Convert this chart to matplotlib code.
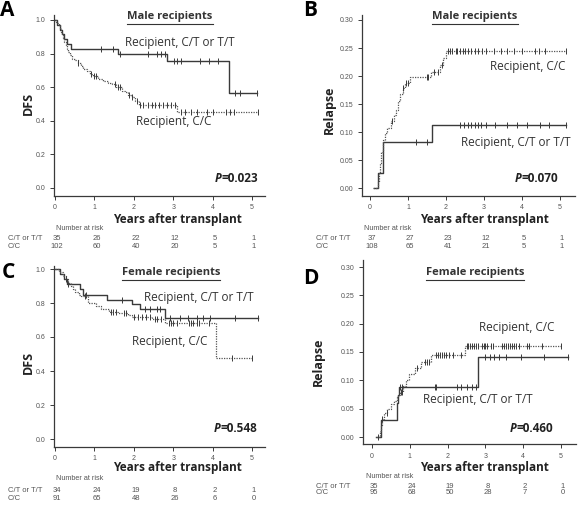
import numpy as np
import matplotlib
matplotlib.use("Agg")
import matplotlib.pyplot as plt
from matplotlib.lines import Line2D

W, H = 579, 513
BIG = "Open Sans"
SMALL = "Liberation Sans"
LINE = "#3a3a3a"
TXT = "#333333"
TICK = "#555555"

# ---- data ----
years = [0, 1, 2, 3, 4, 5]

# A: DFS, male recipients
A_ct_t = [0, 0.06, 0.12, 0.18, 0.24, 0.30, 0.40, 1.60, 2.85, 4.42, 5.12]
A_ct_s = [1.0, 0.971, 0.943, 0.914, 0.886, 0.857, 0.829, 0.80, 0.755, 0.566, 0.566]
A_ct_cens = [1.18, 1.47, 1.65, 2.36, 2.6, 2.7, 2.8, 3.02, 3.09, 3.2, 3.68, 3.9, 4.14, 4.57, 4.7, 5.12]
A_cc_t = [0, 0.03, 0.06, 0.09, 0.12, 0.15, 0.18, 0.21, 0.24, 0.27, 0.30, 0.34, 0.38, 0.43,
          0.50, 0.58, 0.65, 0.72, 0.80, 0.88, 0.96, 1.10, 1.22, 1.35, 1.45, 1.55, 1.70, 1.78,
          1.86, 1.95, 2.03, 2.12, 3.10, 5.15]
A_cc_s = [1.0, 0.99, 0.98, 0.97, 0.95, 0.93, 0.91, 0.89, 0.87, 0.85, 0.83, 0.81, 0.79, 0.77,
          0.76, 0.745, 0.725, 0.71, 0.695, 0.68, 0.667, 0.647, 0.637, 0.627, 0.617, 0.60, 0.58, 0.57,
          0.555, 0.54, 0.52, 0.495, 0.455, 0.455]
A_cc_cens = [0.59, 0.92, 0.98, 1.04, 1.53, 1.6, 1.66, 1.88, 1.95, 2.08, 2.16, 2.24, 2.35, 2.45,
             2.55, 2.65, 2.75, 2.85, 2.95, 3.05, 3.2, 3.3, 3.45, 3.6, 3.85, 4.0, 4.35, 4.45, 4.55, 5.15]
A_risk_ct = [35, 26, 22, 12, 5, 1]
A_risk_cc = [102, 60, 40, 20, 5, 1]

# B: relapse, male recipients
B_ct_t = [0.1, 0.21, 0.33, 1.62, 5.15]
B_ct_s = [0.0, 0.027, 0.083, 0.113, 0.113]
B_ct_cens = [1.21, 1.5, 2.36, 2.47, 2.58, 2.67, 2.75, 2.84, 2.93, 3.04, 3.29, 3.6, 3.88, 4.12, 4.48, 4.7, 5.15]
B_cc_t = [0.08, 0.2, 0.23, 0.26, 0.3, 0.34, 0.4, 0.46, 0.55, 0.62, 0.68, 0.74, 0.8, 0.86,
          0.92, 1.04, 1.6, 1.85, 1.92, 2.0, 5.15]
B_cc_s = [0.0, 0.01, 0.027, 0.045, 0.065, 0.086, 0.098, 0.108, 0.12, 0.13, 0.14, 0.155, 0.168,
          0.178, 0.188, 0.198, 0.208, 0.22, 0.232, 0.244, 0.244]
B_cc_cens = [0.58, 0.87, 0.95, 1.0, 1.5, 1.52, 1.69, 1.8, 1.9, 2.05, 2.1, 2.15, 2.25, 2.3, 2.38,
             2.45, 2.5, 2.58, 2.65, 2.75, 2.85, 2.95, 3.05, 3.25, 3.45, 3.6, 3.8, 4.0, 4.35, 4.45, 4.6, 5.15]
B_risk_ct = [37, 27, 23, 12, 5, 1]
B_risk_cc = [108, 65, 41, 21, 5, 1]

# C: DFS, female recipients
C_ct_t = [0, 0.12, 0.22, 0.30, 0.63, 0.72, 1.31, 1.95, 2.16, 2.79, 5.16]
C_ct_s = [1.0, 0.97, 0.94, 0.91, 0.88, 0.85, 0.82, 0.795, 0.766, 0.71, 0.71]
C_ct_cens = [0.33, 0.78, 1.69, 2.28, 2.41, 2.58, 2.66, 2.92, 3.17, 3.38, 3.6, 3.76, 3.93, 4.57, 5.16]
C_cc_t = [0, 0.09, 0.2, 0.27, 0.33, 0.4, 0.45, 0.52, 0.6, 0.66, 0.85, 1.05, 1.17, 1.36, 1.6,
          1.85, 1.95, 2.45, 2.8, 4.08, 5.0]
C_cc_s = [1.0, 0.98, 0.96, 0.94, 0.92, 0.90, 0.88, 0.865, 0.85, 0.84, 0.80, 0.785, 0.766, 0.75,
          0.74, 0.73, 0.72, 0.705, 0.683, 0.476, 0.476]
C_cc_cens = [0.29, 0.75, 1.42, 1.48, 1.55, 1.75, 1.8, 2.0, 2.1, 2.2, 2.3, 2.4, 2.55, 2.6, 2.7,
             2.9, 2.95, 3.0, 3.1, 3.4, 3.45, 3.5, 3.6, 3.65, 3.9, 4.5, 5.0]
C_risk_ct = [34, 24, 19, 8, 2, 1]
C_risk_cc = [91, 65, 48, 26, 6, 0]

# D: relapse, female recipients
D_ct_t = [0.1, 0.24, 0.67, 0.69, 0.71, 2.8, 5.18]
D_ct_s = [0.0, 0.03, 0.06, 0.075, 0.088, 0.141, 0.141]
D_ct_cens = [0.16, 0.74, 0.8, 1.67, 1.7, 2.25, 2.35, 2.5, 2.65, 2.75, 2.98, 3.11, 3.24, 3.37, 3.54, 3.93, 4.55, 5.18]
D_cc_t = [0.1, 0.2, 0.24, 0.27, 0.32, 0.4, 0.5, 0.58, 0.65, 0.7, 0.75, 0.82, 0.9, 0.97, 1.15,
          1.3, 1.55, 2.47, 5.0]
D_cc_s = [0.0, 0.011, 0.021, 0.032, 0.042, 0.05, 0.058, 0.064, 0.07, 0.075, 0.08, 0.09, 0.1,
          0.111, 0.122, 0.133, 0.145, 0.161, 0.161]
D_cc_cens = [0.27, 0.39, 0.76, 0.8, 1.2, 1.4, 1.45, 1.5, 1.7, 1.75, 1.8, 1.85, 1.9, 1.95, 2.05,
             2.15, 2.35, 2.5, 2.55, 2.6, 2.65, 2.7, 2.75, 2.8, 2.9, 2.95, 3.0, 3.05, 3.15, 3.2,
             3.45, 3.5, 3.55, 3.6, 3.65, 3.7, 3.75, 3.8, 3.9, 4.1, 4.15, 4.5, 5.0]
D_risk_ct = [35, 24, 19, 8, 2, 1]
D_risk_cc = [95, 68, 50, 28, 7, 0]


def fx(x):
    return x / W


def fy(y):
    return 1 - y / H


def step_at(t, s, c):
    idx = np.searchsorted(t, c, side="right") - 1
    return np.asarray(s)[idx]


fig = plt.figure(figsize=(W / 100, H / 100), dpi=100)

panels = [
    dict(letter="A", lx=0, ly=0, x0=55, x5=252, xl=(-0.03, 5.33), ytop=(20, 1.0), ybot=(188, 0.0),
         yl=(-0.048, 1.03), yticks=np.arange(0, 1.01, 0.2), fmt="%.1f", ylabel="DFS", ylx=28, yly=103,
         title="Male recipients", tx=170, ty=17,
         ct=(A_ct_t, A_ct_s, A_ct_cens), cc=(A_cc_t, A_cc_s, A_cc_cens),
         ct_lab=(125, 43), cc_lab=(136, 121), p="0.023", px=258, py=179,
         xlab=(177, 220), risk=(A_risk_ct, A_risk_cc), rk=(228, 238, 247), rowx=8, nax=56),
    dict(letter="B", lx=303, ly=0, x0=370, x5=560, xl=(-0.21, 5.4), ytop=(20, 0.30), ybot=(188, 0.0),
         yl=(-0.014, 0.309), yticks=np.arange(0, 0.301, 0.05), fmt="%.2f", ylabel="Relapse", ylx=329, yly=110,
         title="Male recipients", tx=475, ty=17,
         ct=(B_ct_t, B_ct_s, B_ct_cens), cc=(B_cc_t, B_cc_s, B_cc_cens),
         ct_lab=(461, 143), cc_lab=(490, 67), p="0.070", px=558, py=179,
         xlab=(484, 220), risk=(B_risk_ct, B_risk_cc), rk=(228, 238, 247), rowx=316, nax=364),
    dict(letter="C", lx=2, ly=262, x0=55, x5=252, xl=(-0.03, 5.33), ytop=(269, 1.0), ybot=(439, 0.0),
         yl=(-0.045, 1.015), yticks=np.arange(0, 1.01, 0.2), fmt="%.1f", ylabel="DFS", ylx=28, yly=362,
         title="Female recipients", tx=171, ty=273,
         ct=(C_ct_t, C_ct_s, C_ct_cens), cc=(C_cc_t, C_cc_s, C_cc_cens),
         ct_lab=(144, 298), cc_lab=(132, 341), p="0.548", px=257, py=428,
         xlab=(177, 468), risk=(C_risk_ct, C_risk_cc), rk=(478, 490, 498), rowx=8, nax=56),
    dict(letter="D", lx=303, ly=268, x0=372, x5=561, xl=(-0.24, 5.4), ytop=(267, 0.30), ybot=(437, 0.0),
         yl=(-0.013, 0.312), yticks=np.arange(0, 0.301, 0.05), fmt="%.2f", ylabel="Relapse", ylx=318, yly=362,
         title="Female recipients", tx=475, ty=273,
         ct=(D_ct_t, D_ct_s, D_ct_cens), cc=(D_cc_t, D_cc_s, D_cc_cens),
         ct_lab=(423, 399), cc_lab=(479, 327), p="0.460", px=553, py=428,
         xlab=(484, 468), risk=(D_risk_ct, D_risk_cc), rk=(476, 486, 493), rowx=316, nax=366),
]

titles = []
pvals = []
for p in panels:
    sx = (p["x5"] - p["x0"]) / 5
    left = p["x0"] + p["xl"][0] * sx
    right = p["x0"] + p["xl"][1] * sx
    (ypa, va), (ypb, vb) = p["ytop"], p["ybot"]
    sy = (ypb - ypa) / (va - vb)
    top = ypa - (p["yl"][1] - va) * sy
    bottom = ypb + (vb - p["yl"][0]) * sy
    ax = fig.add_axes([fx(left), fy(bottom), (right - left) / W, (bottom - top) / H])
    ax.set_xlim(*p["xl"])
    ax.set_ylim(*p["yl"])
    for sp in ["top", "right"]:
        ax.spines[sp].set_visible(False)
    for sp in ["left", "bottom"]:
        ax.spines[sp].set_color(LINE)
        ax.spines[sp].set_linewidth(0.9)
    ax.set_xticks(years)
    ax.set_yticks(p["yticks"])
    ax.set_yticklabels([p["fmt"] % v for v in p["yticks"]])
    ax.tick_params(length=3, width=0.7, color=LINE, labelsize=5, labelcolor=TICK, pad=3)
    for lab in ax.get_xticklabels() + ax.get_yticklabels():
        lab.set_family(SMALL)
    ax.patch.set_alpha(0)

    t, s, c = p["ct"]
    ax.step(t, s, where="post", color=LINE, lw=1.0)
    ax.plot(c, step_at(t, s, c), ls="none", marker="|", ms=4, mew=0.7, color=LINE)
    t, s, c = p["cc"]
    ax.step(t, s, where="post", color="#555555", lw=0.9, ls=(0, (1, 1)))
    ax.plot(c, step_at(t, s, c), ls="none", marker="|", ms=4, mew=0.7, color=LINE)

    # texts
    fig.text(fx(p["lx"]), fy(p["ly"]), p["letter"], family=BIG, weight="bold", fontsize=15,
             va="top", ha="left", color="black")
    tt = fig.text(fx(p["tx"]), fy(p["ty"]), p["title"], family=BIG, weight="bold", fontsize=8,
                  ha="center", va="center", color=TXT)
    titles.append(tt)
    fig.text(fx(p["ct_lab"][0]), fy(p["ct_lab"][1]), "Recipient, C/T or T/T", family=BIG,
             fontsize=8.5, ha="left", va="center", color=TXT)
    fig.text(fx(p["cc_lab"][0]), fy(p["cc_lab"][1]), "Recipient, C/C", family=BIG,
             fontsize=8.5, ha="left", va="center", color=TXT)
    pv = fig.text(fx(p["px"]), fy(p["py"]), "=" + p["p"], family=BIG, weight="bold",
                  fontsize=8.5, ha="right", va="center", color="#222222")
    pvals.append(pv)
    fig.text(fx(p["ylx"]), fy(p["yly"]), p["ylabel"], family=BIG, weight="bold", fontsize=9,
             rotation=90, ha="center", va="center", color="#222222")
    fig.text(fx(p["xlab"][0]), fy(p["xlab"][1]), "Years after transplant", family=BIG,
             weight="bold", fontsize=8.5, ha="center", va="center", color="#222222")

    # number at risk table
    r0, r1, r2 = p["rk"]
    fig.text(fx(p["nax"]), fy(r0), "Number at risk", family=SMALL, fontsize=5.2,
             ha="left", va="center", color=TICK)
    fig.text(fx(p["rowx"]), fy(r1), "C/T or T/T", family=SMALL, fontsize=5.5,
             ha="left", va="center", color=TICK)
    fig.text(fx(p["rowx"]), fy(r2), "C/C", family=SMALL, fontsize=5.5,
             ha="left", va="center", color=TICK)
    for yr, n1, n2 in zip(years, *p["risk"]):
        xp = p["x0"] + yr * sx + 2
        fig.text(fx(xp), fy(r1), str(n1), family=SMALL, fontsize=5.5, ha="center", va="center", color=TICK)
        fig.text(fx(xp), fy(r2), str(n2), family=SMALL, fontsize=5.5, ha="center", va="center", color=TICK)

# underline panel titles, put italic P in front of the p-values
fig.canvas.draw()
rend = fig.canvas.get_renderer()
for tt in titles:
    bb = tt.get_window_extent(renderer=rend)
    yline = (bb.y0 - 1) / H
    fig.add_artist(Line2D([bb.x0 / W, bb.x1 / W], [yline, yline], color=TXT, lw=0.8))
for pv in pvals:
    bb = pv.get_window_extent(renderer=rend)
    fig.text(bb.x0 / W, pv.get_position()[1], "P", family=BIG, weight="bold", style="italic",
             fontsize=8.5, ha="right", va="center", color="#222222")

fig.savefig("out.png", dpi=100)
